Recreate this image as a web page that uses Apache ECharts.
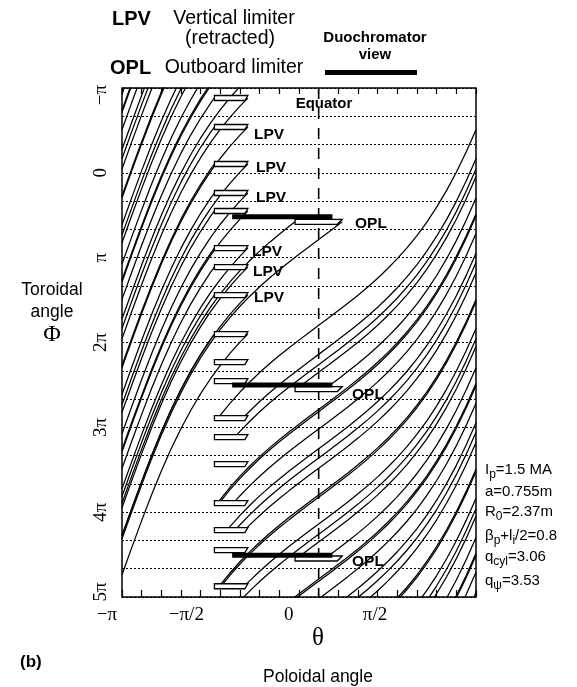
<!DOCTYPE html>
<html><head><meta charset="utf-8">
<script src="https://cdn.jsdelivr.net/npm/echarts@6/dist/echarts.min.js"></script>
<style>html,body{margin:0;padding:0;background:#fff}#c{width:577px;height:687px}</style>
</head><body><div id="c"></div>
<script>
// ---- axis ticks (units of pi) ----
const thetaTickValues = [-1, -0.5, 0, 0.5];
const thetaTickLabels = ['\u2212\u03c0', '\u2212\u03c0/2', '0', '\u03c0/2'];
const phiTickValues = [-1, 0, 1, 2, 3, 4, 5];
const phiTickLabels = ['\u2212\u03c0', '0', '\u03c0', '2\u03c0', '3\u03c0', '4\u03c0', '5\u03c0'];

// ---- field-line shape: toroidal angle (units of pi) relative to the theta=0 crossing,
// read every pi/20 from theta=-pi to theta=0.8pi ----
const shapeTheta = [-1.00,-0.95,-0.90,-0.85,-0.80,-0.75,-0.70,-0.65,-0.60,-0.55,-0.50,-0.45,-0.40,-0.35,-0.30,-0.25,-0.20,-0.15,-0.10,-0.05,0.00,0.05,0.10,0.15,0.20,0.25,0.30,0.35,0.40,0.45,0.50,0.55,0.60,0.65,0.70,0.75,0.80];
const shapePhi = [3.528,3.205,2.890,2.588,2.305,2.043,1.804,1.588,1.393,1.217,1.059,0.916,0.786,0.667,0.556,0.453,0.356,0.263,0.174,0.086,0,-0.086,-0.174,-0.263,-0.356,-0.453,-0.556,-0.667,-0.786,-0.916,-1.059,-1.217,-1.393,-1.588,-1.804,-2.043,-2.305];

// ---- limiters and view (units of pi) ----
const lpvPhi = [-0.882,-0.540,-0.104,0.238,0.450,0.887,1.111,1.441,1.901,2.231,2.455,2.892,3.116,3.434,3.894,4.212,4.448,4.873];
const lpvTheta = [-0.53, -0.36];
const oplPhi = [0.577, 2.549, 4.546];
const oplTheta = [-0.12, 0.12];
const viewPhi = [0.518, 2.502, 4.507];
const viewTheta = [-0.44, 0.07];

// ---- field lines: toroidal angle at the theta=0 crossing, theta from, theta to (units of pi) ----
// inboard segments leaving the right ends of the vertical limiters
const inRightPhi0 = [-4.453,-4.241,-3.804,-3.573,-3.231,-2.795,-2.453,-2.241,-1.804,-1.573,-1.231,-0.795,-0.453,-0.241,0.196,0.420,0.750,1.210];
// inboard segments leaving the left ends of the vertical limiters
const inLeftPhi0 = [-4.267,-4.036,-3.694,-3.258,-2.916,-2.704,-2.267,-2.036,-1.694,-1.258,-0.916,-0.704,-0.267,-0.043,0.287,0.747];
// segments leaving the outboard limiter ends
const oplLinePhi0 = [0.367, 0.787];
const oplLineTo = [-0.12, 0.12];
// outboard segments (after one poloidal turn), running from their end on a limiter to the right edge
const outPhi0 = [1.798,2.140,2.352,2.789,3.020,3.362,3.798,4.140,4.352,4.789,5.020,5.362,5.798,6.140,6.352,6.789,7.013,
                 2.261,2.603,2.815,3.252,3.483,3.825,4.261,4.603,4.815,5.252,5.483,5.825,6.261,6.603,6.815,7.252];
const outFrom = [-0.511,-0.386,-0.113,-0.514,-0.434,-0.424,-0.505,-0.378,-0.111,-0.20,0.00,0.15,0.35,0.50,0.55,0.65,0.70,
                 -0.426,0.031,-0.506,-0.467,-0.377,-0.497,-0.424,0.033,-0.30,0.10,0.20,0.35,0.50,0.60,0.65,0.75];

const D = 180; // pi -> degrees for the axes
function shapeAt(t) {
  for (let i = 0; i < shapeTheta.length - 1; i++) {
    if (t >= shapeTheta[i] - 1e-9 && t <= shapeTheta[i + 1] + 1e-9) {
      const f = (t - shapeTheta[i]) / (shapeTheta[i + 1] - shapeTheta[i]);
      return shapePhi[i] + f * (shapePhi[i + 1] - shapePhi[i]);
    }
  }
  return shapePhi[shapePhi.length - 1];
}
function linePoints(p0, a, b) {
  const pts = [[a * D, (p0 + shapeAt(a)) * D]];
  for (let i = 0; i < shapeTheta.length; i++) {
    const t = shapeTheta[i];
    if (t > a + 1e-6 && t < b - 1e-6) pts.push([t * D, (p0 + shapePhi[i]) * D]);
  }
  pts.push([b * D, (p0 + shapeAt(b)) * D]);
  return pts;
}

const lines = [];
inRightPhi0.forEach(p => lines.push(linePoints(p, -1, lpvTheta[1])));
inLeftPhi0.forEach(p => lines.push(linePoints(p, -1, lpvTheta[0])));
oplLinePhi0.forEach((p, i) => lines.push(linePoints(p, -1, oplLineTo[i])));
outPhi0.forEach((p, i) => lines.push(linePoints(p, outFrom[i], 0.8)));

const series = lines.map(pts => ({
  type: 'line', data: pts, showSymbol: false, symbol: 'none', clip: true, silent: true, z: 2,
  lineStyle: { color: '#000', width: 1.25 }
}));
// equator (dashed)
series.push({
  type: 'line', data: [[0, -1 * D], [0, 5 * D]], symbol: 'none', silent: true, z: 3,
  lineStyle: { color: '#000', width: 1.6, type: [11, 9] }
});
// limiter boxes
function boxSeries(phis, th, slant) {
  return {
    type: 'custom', z: 4, silent: true,
    data: phis.map(p => [th[0] * D, th[1] * D, p * D]),
    renderItem: function (params, api) {
      const a = api.coord([api.value(0), api.value(2)]);
      const b = api.coord([api.value(1), api.value(2)]);
      const h = 2.5;
      return {
        type: 'polygon',
        shape: { points: [[a[0], a[1] - h], [b[0], b[1] - h], [b[0] - slant, b[1] + h], [a[0], a[1] + h]] },
        style: { fill: '#fff', stroke: '#000', lineWidth: 1.3 }
      };
    }
  };
}
series.push(boxSeries(lpvPhi, lpvTheta, 3));
series.push(boxSeries(oplPhi, oplTheta, 5));
// duochromator view
viewPhi.forEach(p => series.push({
  type: 'line', data: [[viewTheta[0] * D, p * D], [viewTheta[1] * D, p * D]], symbol: 'none', silent: true, z: 5,
  lineStyle: { color: '#000', width: 5, cap: 'butt' }
}));

const serif = '"Liberation Serif", "DejaVu Serif", serif';
const sans = '"Liberation Sans", Arial, sans-serif';
function txt(x, y, text, size, bold, align, family) {
  return { type: 'text', x: x, y: y, z: 10, style: { text: text, fill: '#000', font: (bold ? 'bold ' : '') + size + 'px ' + (family || sans), textAlign: align || 'left', textVerticalAlign: 'middle' } };
}
function sub(x, y, text) {
  return { type: 'text', x: x, y: y, z: 10, style: { text: text, fill: '#000', font: '15px ' + sans, textVerticalAlign: 'middle', rich: { s: { fontSize: 12, padding: [9, 0, 0, 0], fontFamily: sans } } } };
}
// the printed labels sit a little off their ticks in the original
const xLabelRich = {
  l0: { fontSize: 19, fontFamily: serif, color: '#000', padding: [0, 30, 0, 0] },
  l1: { fontSize: 19, fontFamily: serif, color: '#000', padding: [0, 68, 0, 0] },
  l2: { fontSize: 19, fontFamily: serif, color: '#000', padding: [0, 60, 0, 0] },
  l3: { fontSize: 19, fontFamily: serif, color: '#000', padding: [0, 84, 0, 0] }
};
const yLabelRich = {
  first: { fontSize: 19, fontFamily: serif, color: '#000', padding: [0, 14, 0, 0] },
  last: { fontSize: 19, fontFamily: serif, color: '#000', padding: [0, 0, 0, 10] }
};

const chart = echarts.init(document.getElementById('c'), null, { renderer: 'canvas' });
chart.setOption({
  animation: false,
  backgroundColor: '#fff',
  grid: { left: 122, right: 101, top: 88, bottom: 90, show: true, borderColor: '#000', borderWidth: 1.5, backgroundColor: 'transparent' },
  xAxis: [{
    type: 'value', min: -180, max: 144, interval: 18, position: 'bottom',
    axisLine: { show: false, onZero: false }, splitLine: { show: false },
    axisTick: { show: true, inside: true, length: 7, lineStyle: { color: '#000', width: 1.2 } },
    axisLabel: { margin: 9, color: '#000', fontSize: 19, fontFamily: serif, rich: xLabelRich,
      formatter: v => { const i = thetaTickValues.findIndex(t => Math.abs(t * D - v) < 1e-6); return i >= 0 ? '{l' + i + '|' + thetaTickLabels[i] + '}' : ''; } }
  }, {
    type: 'value', min: -180, max: 144, interval: 18, position: 'top',
    axisLine: { show: false, onZero: false }, splitLine: { show: false }, axisLabel: { show: false },
    axisTick: { show: true, inside: true, length: 6, lineStyle: { color: '#000', width: 1.2 } }
  }],
  yAxis: [{
    type: 'value', min: -180, max: 900, interval: 60, inverse: true,
    axisLine: { show: false, onZero: false }, axisTick: { show: false },
    splitLine: { show: true, lineStyle: { color: '#000', width: 1, type: [2, 2] } },
    axisLabel: { rotate: 90, margin: 11, color: '#000', fontSize: 19, fontFamily: serif, rich: yLabelRich,
      formatter: v => {
        const i = phiTickValues.findIndex(t => Math.abs(t * D - v) < 1e-6);
        if (i < 0) return '';
        if (i === 0) return '{first|' + phiTickLabels[i] + '}';
        if (i === phiTickValues.length - 1) return '{last|' + phiTickLabels[i] + '}';
        return phiTickLabels[i];
      } }
  }],
  series: series,
  graphic: [
    txt(112, 19, 'LPV', 20, true, 'left'),
    txt(234, 19, 'Vertical limiter', 19.5, false, 'center'),
    txt(230, 39, '(retracted)', 19.5, false, 'center'),
    txt(110, 68, 'OPL', 20, true, 'left'),
    txt(234, 68, 'Outboard limiter', 19.5, false, 'center'),
    txt(375, 38, 'Duochromator', 15, true, 'center'),
    txt(375, 55, 'view', 15, true, 'center'),
    { type: 'line', z: 10, shape: { x1: 325, y1: 72.5, x2: 417, y2: 72.5 }, style: { stroke: '#000', lineWidth: 5 } },
    txt(324, 104, 'Equator', 15, true, 'center'),
    txt(254, 135, 'LPV', 15.5, true), txt(256, 168, 'LPV', 15.5, true), txt(256, 198, 'LPV', 15.5, true),
    txt(252, 252, 'LPV', 15.5, true), txt(253, 272, 'LPV', 15.5, true), txt(254, 298, 'LPV', 15.5, true),
    txt(355, 224, 'OPL', 15.5, true), txt(352, 395, 'OPL', 15.5, true), txt(352, 562, 'OPL', 15.5, true),
    txt(318, 638, '\u03b8', 25, false, 'center', serif),
    txt(318, 677, 'Poloidal angle', 17.5, false, 'center'),
    txt(20, 662, '(b)', 17, true, 'left'),
    txt(52, 290, 'Toroidal', 17.5, false, 'center'),
    txt(52, 312, 'angle', 17.5, false, 'center'),
    txt(52, 335, '\u03a6', 24, false, 'center', serif),
    sub(485, 470, 'I{s|p}=1.5 MA'),
    txt(485, 492, 'a=0.755m', 15, false),
    sub(485, 512, 'R{s|0}=2.37m'),
    sub(485, 536, '\u03b2{s|p}+l{s|i}/2=0.8'),
    sub(485, 557, 'q{s|cyl}=3.06'),
    sub(485, 581, 'q{s|\u03c8}=3.53')
  ]
});
</script></body></html>
